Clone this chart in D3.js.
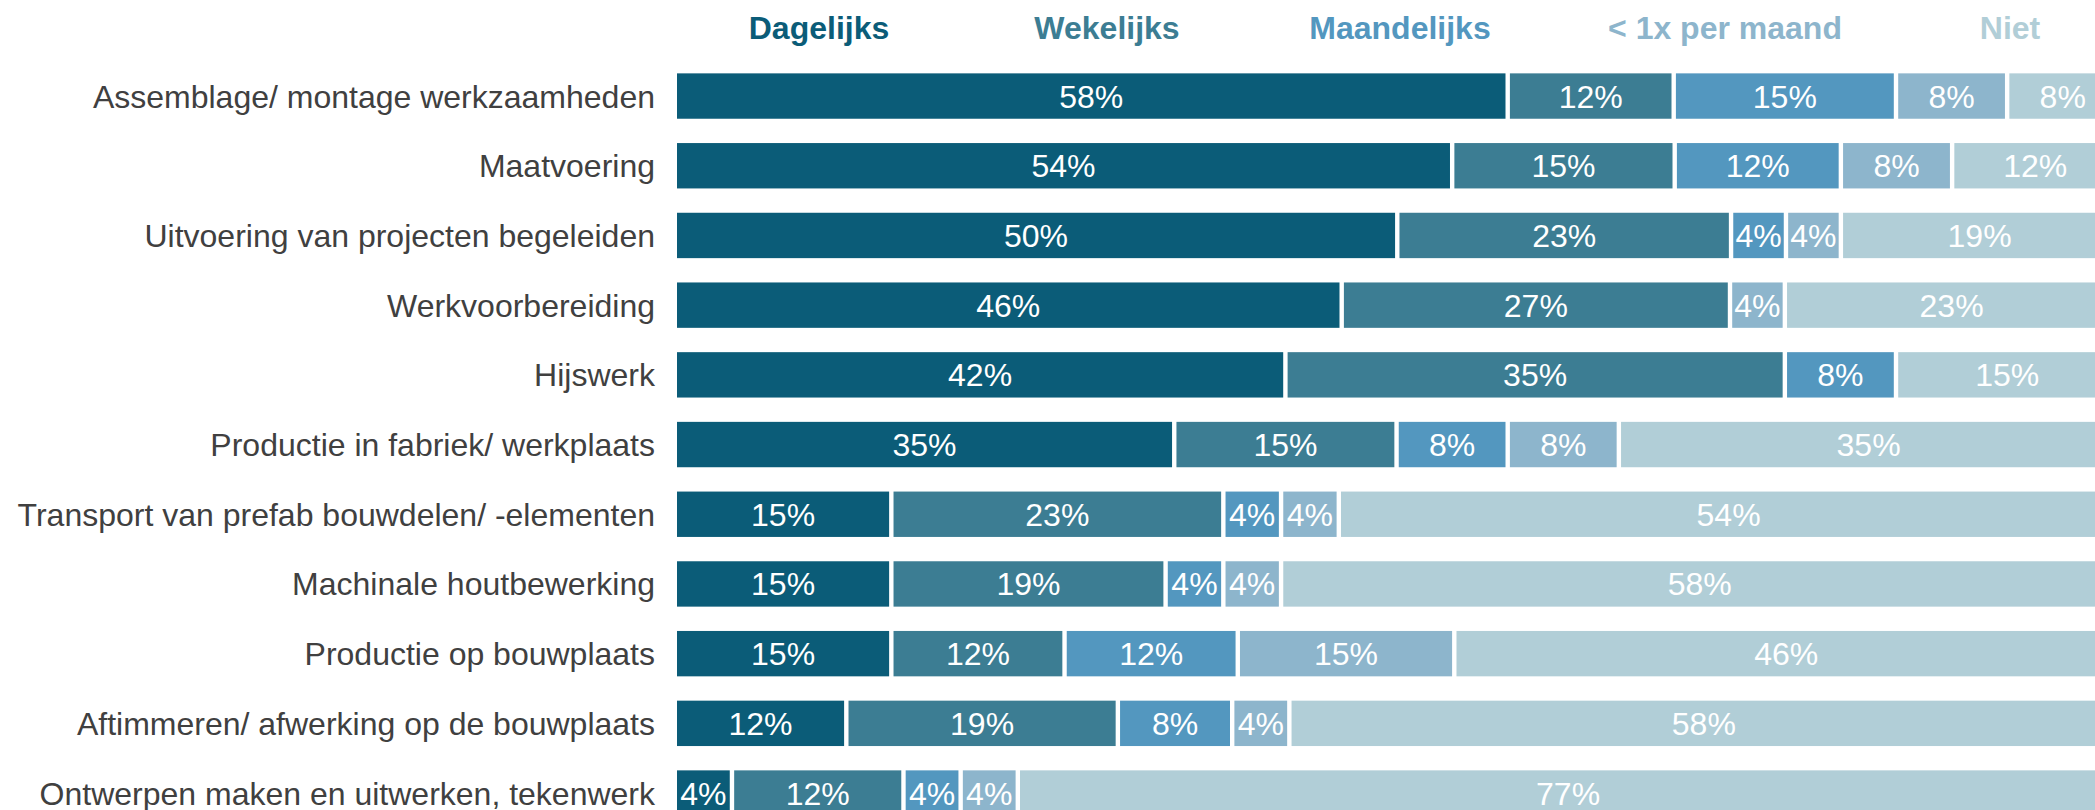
<!DOCTYPE html>
<meta charset="utf-8">
<style>
body { margin: 0; background: #fff; font-family: "Liberation Sans", Arial, sans-serif; }
.cat { font-size: 32px; fill: #404040; }
.val { font-size: 32px; fill: #fff; }
.head { font-size: 32px; font-weight: bold; }
</style>
<body>
<script src="https://d3js.org/d3.v7.min.js"></script>
<script>
// categories (top to bottom)
var categories = [
    "Assemblage/ montage werkzaamheden",
    "Maatvoering",
    "Uitvoering van projecten begeleiden",
    "Werkvoorbereiding",
    "Hijswerk",
    "Productie in fabriek/ werkplaats",
    "Transport van prefab bouwdelen/ -elementen",
    "Machinale houtbewerking",
    "Productie op bouwplaats",
    "Aftimmeren/ afwerking op de bouwplaats",
    "Ontwerpen maken en uitwerken, tekenwerk"
];

// series names and colours
var seriesNames = ["Dagelijks", "Wekelijks", "Maandelijks", "< 1x per maand", "Niet"];
var seriesColors = ["#0b5c78", "#3c7d93", "#5397bf", "#8db5cc", "#b1ced7"];

// percentages per series (each row is scaled to 100% like a 100% stacked bar)
var dagelijks   = [57.7, 53.8, 50.0, 46.2, 42.3, 34.6, 15, 15, 15, 12, 4];
var wekelijks   = [11.5, 15.4, 23.1, 26.9, 34.6, 15.4, 23, 19, 12, 19, 12];
var maandelijks = [15.4, 11.5, 3.8, 0, 7.7, 7.7, 4, 4, 12, 8, 4];
var minderDan1x = [7.7, 7.7, 3.8, 3.8, 0, 7.7, 4, 4, 15, 4, 4];
var niet        = [7.7, 11.5, 19.2, 23.1, 15.4, 34.6, 54, 58, 46, 58, 77];

var seriesValues = [dagelijks, wekelijks, maandelijks, minderDan1x, niet];

// build rows for d3.stack
var rows = categories.map(function(c, i) {
    var r = { cat: c };
    seriesNames.forEach(function(s, j) { r[s] = seriesValues[j][i]; });
    return r;
});

var width = 2095, height = 810;

var svg = d3.select("body")
    .append("svg")
        .attr("width", width)
        .attr("height", height);

// scales
var x = d3.scaleLinear().domain([0, 1]).range([674.8, 2118.3]);
var y = d3.scaleBand()
    .domain(categories)
    .range([61.2, 61.2 + 69.7 * categories.length])
    .paddingInner(0.349)
    .paddingOuter(0.1745);
var color = d3.scaleOrdinal().domain(seriesNames).range(seriesColors);
// header centres
var headX = d3.scaleOrdinal().domain(seriesNames).range([819, 1107, 1400, 1725, 2010]);

var stack = d3.stack()
    .keys(seriesNames)
    .offset(d3.stackOffsetExpand)(rows);
var gap = 2.2;

// keep only non-empty segments, remember the series key
function segments(d) {
    return d.filter(function(p) { return p.data[d.key] > 0; })
        .map(function(p) { p.key = d.key; return p; });
}

var layer = svg.selectAll("g.layer")
    .data(stack)
    .enter().append("g")
        .attr("class", "layer")
        .attr("fill", function(d) { return color(d.key); });

layer.selectAll("rect")
    .data(segments)
    .enter().append("rect")
        .attr("x", function(d) { return x(d[0]) + gap; })
        .attr("y", function(d) { return y(d.data.cat); })
        .attr("width", function(d) { return x(d[1]) - x(d[0]) - 2 * gap; })
        .attr("height", y.bandwidth());

// value labels
layer.selectAll("text")
    .data(segments)
    .enter().append("text")
        .attr("class", "val")
        .attr("text-anchor", "middle")
        .attr("x", function(d) { return (x(d[0]) + x(d[1])) / 2; })
        .attr("y", function(d) { return y(d.data.cat) + y.bandwidth() / 2; })
        .attr("dy", "0.36em")
        .text(function(d) { return Math.round(d.data[d.key]) + "%"; });

// category labels
svg.append("g")
    .selectAll("text")
    .data(categories)
    .enter().append("text")
        .attr("class", "cat")
        .attr("text-anchor", "end")
        .attr("x", 655)
        .attr("y", function(d) { return y(d) + y.bandwidth() / 2; })
        .attr("dy", "0.36em")
        .text(function(d) { return d; });

// header legend
svg.append("g")
    .selectAll("text")
    .data(seriesNames)
    .enter().append("text")
        .attr("class", "head")
        .attr("text-anchor", "middle")
        .attr("x", function(d) { return headX(d); })
        .attr("y", 39)
        .attr("fill", function(d) { return color(d); })
        .text(function(d) { return d; });
</script>
</body>
